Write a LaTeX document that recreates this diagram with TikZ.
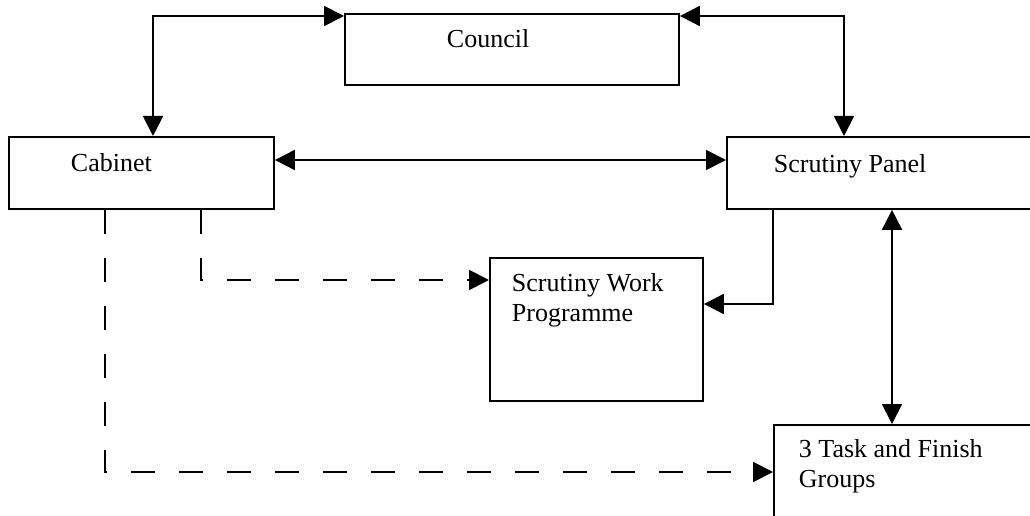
\documentclass[tikz,border=0pt]{standalone}
\usepackage{fontspec}
\setmainfont{Liberation Serif}
\usetikzlibrary{arrows.meta,positioning}
\tikzset{
	box/.style={draw,rectangle,anchor=north west,inner sep=0pt},
	txt/.style={anchor=base west,align=left,inner sep=0pt},
	dashline/.style={dash pattern=on 18pt off 18pt}
}
\begin{document}
\begin{tikzpicture}[x=0.75pt,y=-0.75pt,line width=1.4pt,>={Triangle[length=15pt,width=15pt]},font=\fontsize{19.5}{22}\selectfont]
			\useasboundingbox (0,0) rectangle (1030,516);
			\clip (0,0) rectangle (1030,516);
			% boxes
			\node[box,minimum width=250.5pt,minimum height=53.25pt] (council) at (344,13) {};
			\node[box,minimum width=198.75pt,minimum height=54pt] (cabinet) at (8,136) {};
			\node[box,minimum width=247.5pt,minimum height=54pt] (panel) at (726,136) {};
			\node[box,minimum width=159.75pt,minimum height=107.25pt] (swp) at (489,257) {};
			\node[box,minimum width=210pt,minimum height=82.5pt] (tfg) at (773,424) {};
			% texts (base of the last line)
			\node[txt] (councilT) at (446,48) {Council};
			\node[txt] (cabinetT) at (70,172) {Cabinet};
			\node[txt] (panelT) at (773,173) {Scrutiny Panel};
			\node[txt] (swpT) at (511,321) {Scrutiny Work\\Programme};
			\node[txt] (tfgT) at (798,487) {3 Task and Finish\\Groups};
			% links
			\draw[<->] (cabinet.north -| 153,0) |- (council.west |- 0,16);
			\draw[<->] (council.east |- 0,16) -| (panel.north -| 844,0);
			\draw[<->] (cabinet.east |- 0,160) -- (panel.west |- 0,160);
			\draw[->] (panel.south -| 773,0) |- (swp.east |- 0,304);
			\draw[<->] (panel.south -| 892,0) -- (tfg.north -| 892,0);
			\draw[->,dashline] (cabinet.south -| 201,0) |- (swp.west |- 0,280);
			\draw[->,dashline] (cabinet.south -| 105,0) |- (tfg.west |- 0,472);
		\end{tikzpicture}
\end{document}
